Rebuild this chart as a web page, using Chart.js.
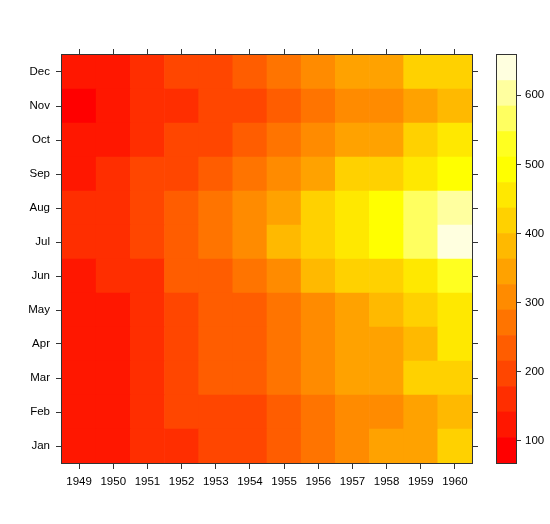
<!DOCTYPE html>
<html>
<head>
<meta charset="utf-8">
<script src="https://cdn.jsdelivr.net/npm/chart.js@4.4.1/dist/chart.umd.min.js"></script>
<style>
  html, body { margin: 0; padding: 0; background: #fff; }
  #wrap { position: relative; width: 550px; height: 524px; }
  #main { position: absolute; left: 0; top: 0; }
  #key { position: absolute; left: 480px; top: 0; }
</style>
</head>
<body>
<div id="wrap">
  <canvas id="main" width="550" height="524"></canvas>
  <canvas id="key" width="70" height="524"></canvas>
</div>
<script>
// monthly air passengers (thousands), one array per year, Jan..Dec
const years = ['1949', '1950', '1951', '1952', '1953', '1954', '1955', '1956', '1957', '1958', '1959', '1960'];
const months = ['Jan', 'Feb', 'Mar', 'Apr', 'May', 'Jun', 'Jul', 'Aug', 'Sep', 'Oct', 'Nov', 'Dec'];
const y1949 = [112, 118, 132, 129, 121, 135, 148, 148, 136, 119, 104, 118];
const y1950 = [115, 126, 141, 135, 125, 149, 170, 170, 158, 133, 114, 140];
const y1951 = [145, 150, 178, 163, 172, 178, 199, 199, 184, 162, 146, 166];
const y1952 = [171, 180, 193, 181, 183, 218, 230, 242, 209, 191, 172, 194];
const y1953 = [196, 196, 236, 235, 229, 243, 264, 272, 237, 211, 180, 201];
const y1954 = [204, 188, 235, 227, 234, 264, 302, 293, 259, 229, 203, 229];
const y1955 = [242, 233, 267, 269, 270, 315, 364, 347, 312, 274, 237, 278];
const y1956 = [284, 277, 317, 313, 318, 374, 413, 405, 355, 306, 271, 306];
const y1957 = [315, 301, 356, 348, 355, 422, 465, 467, 404, 347, 305, 336];
const y1958 = [340, 318, 362, 348, 363, 435, 491, 505, 404, 359, 310, 337];
const y1959 = [360, 342, 406, 396, 420, 472, 548, 559, 463, 407, 362, 405];
const y1960 = [417, 391, 419, 461, 472, 535, 622, 606, 508, 461, 390, 432];
const passengers = [y1949, y1950, y1951, y1952, y1953, y1954, y1955, y1956, y1957, y1958, y1959, y1960];
const keyTicks = [100, 200, 300, 400, 500, 600];

// colour levels like lattice levelplot: 16 bands of heat colours over a padded range
const nLevels = 16;
const all = passengers.flat();
const zmin = Math.min(...all), zmax = Math.max(...all);
const pad = (zmax - zmin) * 0.07;
const lo = zmin - pad, hi = zmax + pad;
const step = (hi - lo) / nLevels;
const breaks = [];
for (let k = 0; k <= nLevels; k++) breaks.push(lo + k * step);

function heatColors(n) {
  const j = Math.floor(n / 4), i = n - j;
  const out = [];
  for (let k = 0; k < i; k++) {
    const g = Math.round(255 * k / (i - 1));
    out.push('rgb(255,' + g + ',0)');
  }
  for (let k = 0; k < j; k++) {
    const s = (1 - 1 / (2 * j)) - k * ((1 - 1 / j) / (j - 1));
    out.push('rgb(255,255,' + Math.round(255 * (1 - s)) + ')');
  }
  return out;
}
const palette = heatColors(nLevels);
function colorFor(v) {
  let k = Math.floor((v - lo) / step);
  if (k < 0) k = 0;
  if (k > nLevels - 1) k = nLevels - 1;
  return palette[k];
}

const font = { family: '"Liberation Sans", Arial, sans-serif', size: 11.5 };
const tickGrid = { drawOnChartArea: false, offset: false, tickLength: 6, color: '#333', lineWidth: 1 };

const framePlugin = {
  id: 'frame',
  afterDraw(chart) {
    const a = chart.chartArea, ctx = chart.ctx;
    ctx.save();
    ctx.strokeStyle = '#333';
    ctx.lineWidth = 1;
    ctx.strokeRect(Math.round(a.left) - 0.5, Math.round(a.top) - 0.5, Math.round(a.right - a.left) + 1, Math.round(a.bottom - a.top) + 1);
    ctx.restore();
  }
};

// one dataset per month: a floating bar spanning that month's row in every year
const cellSets = months.map((m, mi) => ({
  label: m,
  data: years.map(() => [mi + 0.5, mi + 1.5]),
  backgroundColor: years.map((y, yi) => colorFor(passengers[yi][mi])),
  borderWidth: 0,
  barPercentage: 1,
  categoryPercentage: 1,
  grouped: false
}));

const monthTicks = scale => { scale.ticks = months.map((m, i) => ({ value: i + 1 })); };

new Chart(document.getElementById('main').getContext('2d'), {
  type: 'bar',
  data: { labels: years, datasets: cellSets },
  plugins: [framePlugin],
  options: {
    responsive: false,
    animation: false,
    layout: { padding: 0 },
    plugins: { legend: { display: false }, tooltip: { enabled: false } },
    scales: {
      x: {
        position: 'bottom',
        offset: true,
        grid: tickGrid,
        border: { display: false },
        ticks: { font: font, color: '#000', padding: 6, maxRotation: 0 },
        afterFit: s => { s.height = 61; }
      },
      x2: {
        type: 'category',
        position: 'top',
        offset: true,
        grid: tickGrid,
        border: { display: false },
        ticks: { display: false },
        afterFit: s => { s.height = 55; }
      },
      y: {
        type: 'linear',
        position: 'left',
        min: 0.5,
        max: 12.5,
        afterBuildTicks: monthTicks,
        grid: tickGrid,
        border: { display: false },
        ticks: { font: font, color: '#000', padding: 6, callback: v => months[v - 1] },
        afterFit: s => { s.width = 62; }
      },
      y2: {
        type: 'linear',
        position: 'right',
        min: 0.5,
        max: 12.5,
        afterBuildTicks: monthTicks,
        grid: tickGrid,
        border: { display: false },
        ticks: { display: false },
        afterFit: s => { s.width = 78; }
      }
    }
  }
});

// colour key
const keySets = palette.map((c, k) => ({
  data: [[breaks[k], breaks[k + 1]]],
  backgroundColor: c,
  borderWidth: 0,
  barPercentage: 1,
  categoryPercentage: 1,
  grouped: false
}));

new Chart(document.getElementById('key').getContext('2d'), {
  type: 'bar',
  data: { labels: ['key'], datasets: keySets },
  plugins: [framePlugin],
  options: {
    responsive: false,
    animation: false,
    layout: { padding: { left: 17, top: 55, bottom: 61, right: 0 } },
    plugins: { legend: { display: false }, tooltip: { enabled: false } },
    scales: {
      x: { display: false, offset: true },
      y: {
        position: 'right',
        min: lo,
        max: hi,
        afterBuildTicks: s => { s.ticks = keyTicks.map(v => ({ value: v })); },
        grid: Object.assign({}, tickGrid, { tickLength: 5 }),
        border: { display: false },
        ticks: { font: font, color: '#000', padding: 4 },
        afterFit: s => { s.width = 34; }
      }
    }
  }
});
</script>
</body>
</html>
